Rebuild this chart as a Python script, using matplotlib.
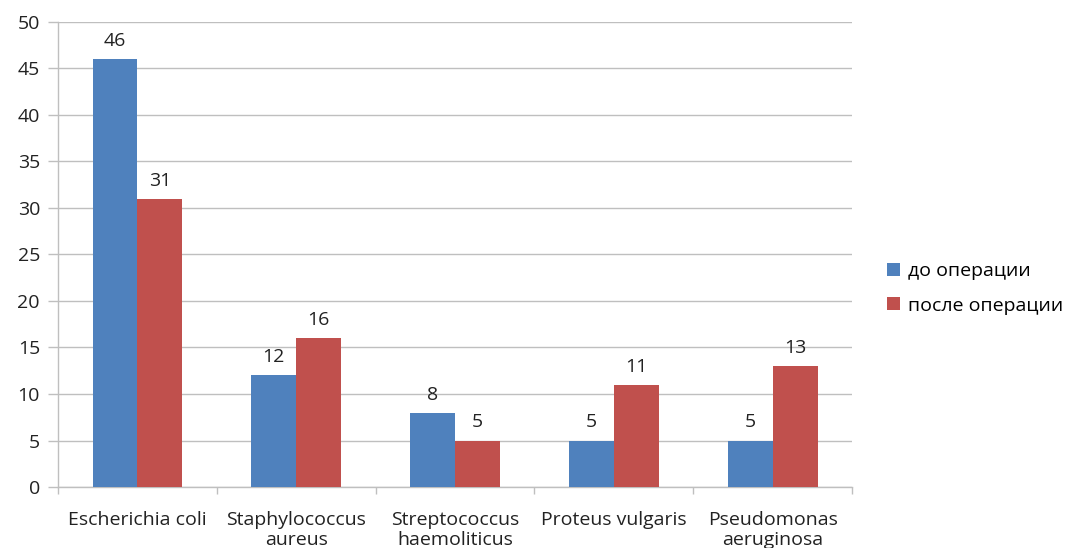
import numpy as np
import matplotlib.pyplot as plt

# данные: число выделенных штаммов до и после операции
bacteria = ['Escherichia coli', 'Staphylococcus\naureus', 'Streptococcus\nhaemoliticus',
            'Proteus vulgaris', 'Pseudomonas\naeruginosa']
before = [46, 12, 8, 5, 5]
after = [31, 16, 5, 11, 13]

blue = '#4F81BD'
red = '#C0504D'
grid_col = '#BFBFBF'
txt_col = '#222222'
fs = 14

plt.rcParams['font.family'] = ['Open Sans', 'DejaVu Sans']

fig = plt.figure(figsize=(10.71, 5.48), dpi=100)
ax = fig.add_axes([0.0542, 0.1113, 0.7413, 0.8486])

x = np.arange(len(bacteria))
w = 0.283
b1 = ax.bar(x - w / 2, before, w, color=blue, label='до операции', zorder=3)
b2 = ax.bar(x + w / 2, after, w, color=red, label='после операции', zorder=3)

for bars, vals in ((b1, before), (b2, after)):
    for rect, v in zip(bars, vals):
        ax.annotate(str(v), (rect.get_x() + rect.get_width() / 2, v),
                    xytext=(0, 6.5), textcoords='offset points',
                    ha='center', va='bottom', fontsize=fs, color=txt_col)

ax.set_ylim(0, 50)
ax.set_yticks(range(0, 51, 5))
ax.set_xlim(-0.5, len(bacteria) - 0.5)
ax.yaxis.grid(True, color=grid_col, linewidth=1, zorder=0)
ax.set_axisbelow(True)

# подписи категорий без засечек, засечки на границах категорий
ax.set_xticks(x)
ax.set_xticklabels(bacteria, fontsize=fs, color=txt_col, linespacing=1.2)
ax.tick_params(axis='x', length=0, pad=17)
ax.set_xticks(np.arange(-0.5, len(bacteria)), minor=True)
ax.tick_params(axis='x', which='minor', length=5, color=grid_col, width=1)
ax.tick_params(axis='y', length=7, color=grid_col, width=1, labelsize=fs,
               labelcolor=txt_col, pad=6)

for side in ('top', 'right'):
    ax.spines[side].set_visible(False)
for side in ('left', 'bottom'):
    ax.spines[side].set_color(grid_col)
    ax.spines[side].set_linewidth(1)

fig.legend(handles=[b1, b2], loc='center left', bbox_to_anchor=(0.812, 0.474),
           frameon=False, fontsize=fs, handlelength=0.65, handleheight=0.65,
           handletextpad=0.4, labelspacing=0.85)

fig.savefig('out.png', dpi=100)
